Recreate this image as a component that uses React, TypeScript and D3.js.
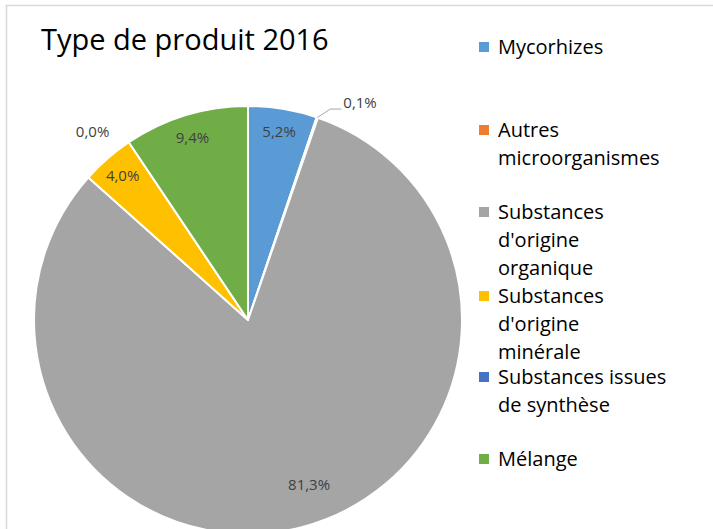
import React from "react";
import * as d3 from "d3";

const categories = [
  "Mycorhizes",
  "Autres microorganismes",
  "Substances d'origine organique",
  "Substances d'origine minérale",
  "Substances issues de synthèse",
  "Mélange",
];
const values = [5.2, 0.1, 81.3, 4.0, 0.0, 9.4];
const labels = ["5,2%", "0,1%", "81,3%", "4,0%", "0,0%", "9,4%"];
const legendLines = [
  ["Mycorhizes"],
  ["Autres", "microorganismes"],
  ["Substances", "d'origine", "organique"],
  ["Substances", "d'origine", "minérale"],
  ["Substances issues", "de synthèse"],
  ["Mélange"],
];
const colors = ["#5b9bd5", "#ed7d31", "#a5a5a5", "#ffc000", "#4472c4", "#70ad47"];
const title = "Type de produit 2016";

const W = 713;
const H = 529;
const cx = 248;
const cy = 320;
const R = 214;
const FONT = "'Open Sans', 'Noto Sans', sans-serif";

// legend layout: first-line baselines of each entry, line height
const legendX = 479;
const legendTextX = 498;
const legendStartY = [54, 137, 219, 303, 384, 466];
const legendLineH = 28;

export default function App() {
  const pie = d3
    .pie<number>()
    .sort(null)
    .value((d) => d)
    .startAngle(0)
    .endAngle(2 * Math.PI);
  const arcs = pie(values);
  const arcGen = d3.arc<d3.PieArcDatum<number>>().innerRadius(0).outerRadius(R);

  const polar = (angle: number, r: number): [number, number] => [
    Math.sin(angle) * r,
    -Math.cos(angle) * r,
  ];

  const labelEls = arcs.map((a, i) => {
    const mid = (a.startAngle + a.endAngle) / 2;
    const v = values[i];
    if (v < 1) {
      if (v > 0.05) {
        // outside with leader line
        const [x0, y0] = polar(mid, R);
        const x1 = x0 + 13;
        const y1 = y0 - 8.5;
        const x2 = x1 + 11;
        return (
          <g key={i}>
            <polyline
              points={`${x0},${y0} ${x1},${y1} ${x2},${y1}`}
              fill="none"
              stroke="#a6a6a6"
              strokeWidth={1}
            />
            <text x={x2 + 2} y={y1 - 1} fontSize={15} fill="#404040" fontFamily={FONT}>
              {labels[i]}
            </text>
          </g>
        );
      }
      const [x, y] = polar(mid - 0.1, R + 30);
      return (
        <text key={i} x={x} y={y} dy="0.35em" textAnchor="middle" fontSize={15} fill="#404040" fontFamily={FONT}>
          {labels[i]}
        </text>
      );
    }
    const big = v > 50;
    const [x, y] = big ? polar(mid - 0.1, 176) : polar(mid, 191);
    return (
      <text key={i} x={x} y={y} dy="0.35em" textAnchor="middle" fontSize={15} fill="#404040" fontFamily={FONT}>
        {labels[i]}
      </text>
    );
  });

  return (
    <svg
      width={W}
      height={H}
      style={{ position: "absolute", left: 0, top: 0, background: "#fff" }}
    >
      <rect x={0} y={0} width={W} height={H} fill="#fff" />
      <rect x={6.5} y={5.5} width={W + 20} height={H + 20} fill="none" stroke="#d9d9d9" strokeWidth={1.5} />
      <text x={41} y={50} fontSize={29} fill="#000" fontFamily={FONT}>
        {title}
      </text>
      <g transform={`translate(${cx},${cy})`}>
        {arcs.map((a, i) => (
          <path key={i} d={arcGen(a) || ""} fill={colors[i]} stroke="#fff" strokeWidth={2} strokeLinejoin="round" />
        ))}
        {labelEls}
      </g>
      <g>
        {categories.map((c, i) => (
          <g key={c}>
            <rect x={legendX} y={legendStartY[i] - 12} width={10} height={10} fill={colors[i]} />
            {legendLines[i].map((ln, j) => (
              <text
                key={j}
                x={legendTextX}
                y={legendStartY[i] + j * legendLineH}
                fontSize={20}
                fill="#000"
                fontFamily={FONT}
              >
                {ln}
              </text>
            ))}
          </g>
        ))}
      </g>
    </svg>
  );
}
